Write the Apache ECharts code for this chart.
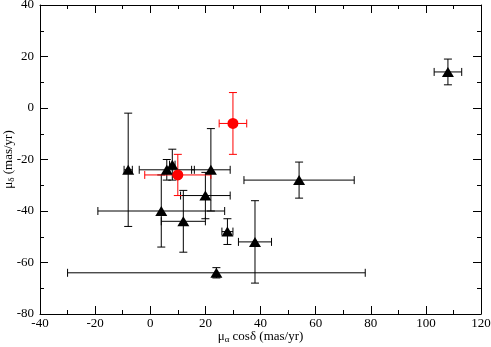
<!DOCTYPE html>
<html>
<head>
<meta charset="utf-8">
<script src="https://cdn.jsdelivr.net/npm/echarts@6/dist/echarts.min.js"></script>
<style>
  html, body { margin: 0; padding: 0; background: #fff; }
  #chart { width: 491px; height: 347px; }
</style>
</head>
<body>
<div id="chart"></div>
<script>
// black triangles: position, x error, y error
const triX    = [-8,  6,   8,   22,  20,  4,   12,  28,  38,  24,  54,  108]
const triY    = [-24, -24, -22, -24, -34, -40, -44, -48, -52, -64, -28, 14]
const triErrX = [1.5, 10,  1,   7,   9,   23,  8,   2,   6,   54,  20,  5]
const triErrY = [22,  4,   6,   16,  9,   14,  12,  5,   16,  2,   7,   5]

// red circles
const redX    = [30, 10]
const redY    = [-6, -26]
const redErrX = [5, 12]
const redErrY = [12, 8]

const xTicks = [-40, 120, 20]
const yTicks = [-80, 40, 20]

const font = "'Liberation Serif', 'Times New Roman', serif"

function rows(xs, ys, exs, eys) {
  return xs.map((x, i) => [x, ys[i], exs[i], eys[i]])
}

function errorBars(color) {
  return function (params, api) {
    const x = api.value(0), y = api.value(1)
    const ex = api.value(2), ey = api.value(3)
    const l = api.coord([x - ex, y]), r = api.coord([x + ex, y])
    const t = api.coord([x, y + ey]), b = api.coord([x, y - ey])
    const cap = 4
    const style = { stroke: color, lineWidth: 1 }
    const line = (x1, y1, x2, y2) => ({ type: 'line', shape: { x1, y1, x2, y2 }, style })
    return {
      type: 'group',
      children: [
        line(l[0], l[1], r[0], r[1]),
        line(l[0], l[1] - cap, l[0], l[1] + cap),
        line(r[0], r[1] - cap, r[0], r[1] + cap),
        line(t[0], t[1], b[0], b[1]),
        line(t[0] - cap, t[1], t[0] + cap, t[1]),
        line(b[0] - cap, b[1], b[0] + cap, b[1])
      ]
    }
  }
}

function axis(kind, ticks, position, showLabel, extra) {
  return Object.assign({
    type: 'value',
    min: ticks[0], max: ticks[1], interval: ticks[2],
    position,
    axisLine: { show: true, onZero: false, lineStyle: { color: '#000', width: 1 } },
    axisTick: { show: true, inside: true, length: 8, lineStyle: { color: '#000' } },
    minorTick: { show: true, splitNumber: 2, length: 4, lineStyle: { color: '#000' } },
    axisLabel: { show: showLabel, color: '#000', fontFamily: font, fontSize: 13,
                 margin: kind === 'x' ? 3 : 6, hideOverlap: false },
    splitLine: { show: false }
  }, extra || {})
}

const subText = {
  color: '#000', fontFamily: font, fontSize: 13,
  rich: { sub: { fontFamily: font, fontSize: 9, verticalAlign: 'bottom', padding: [6, 0, 0, 0] } }
}

const chart = echarts.init(document.getElementById('chart'))

chart.setOption({
  animation: false,
  backgroundColor: '#fff',
  grid: { left: 40, right: 10, top: 5, bottom: 33, containLabel: false, outerBoundsMode: 'none' },
  xAxis: [
    axis('x', xTicks, 'bottom', true, {
      name: 'μ{sub|α} cosδ (mas/yr)',
      nameLocation: 'middle',
      nameGap: 15,
      nameMoveOverlap: false,
      nameTextStyle: subText
    }),
    axis('x', xTicks, 'top', false)
  ],
  yAxis: [
    axis('y', yTicks, 'left', true, {
      name: 'μ{sub|δ} (mas/yr)',
      nameLocation: 'middle',
      nameGap: 24,
      nameMoveOverlap: false,
      nameTextStyle: subText
    }),
    axis('y', yTicks, 'right', false)
  ],
  series: [
    {
      type: 'custom',
      renderItem: errorBars('#000'),
      data: rows(triX, triY, triErrX, triErrY),
      z: 1
    },
    {
      type: 'custom',
      renderItem: errorBars('#ff0000'),
      data: rows(redX, redY, redErrX, redErrY),
      z: 1
    },
    {
      type: 'scatter',
      symbol: 'triangle',
      symbolSize: [12, 10],
      itemStyle: { color: '#000', opacity: 1 },
      data: triX.map((x, i) => [x, triY[i]]),
      z: 3
    },
    {
      type: 'scatter',
      symbol: 'circle',
      symbolSize: 11,
      itemStyle: { color: '#ff0000', opacity: 1 },
      data: redX.map((x, i) => [x, redY[i]]),
      z: 3
    }
  ]
})
</script>
</body>
</html>
